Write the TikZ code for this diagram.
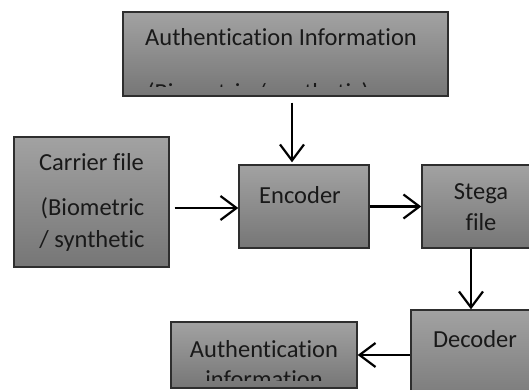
\documentclass[tikz,border=0pt]{standalone}
\usepackage{fontspec}
\setmainfont{Carlito}[Ligatures=NoCommon]
\usetikzlibrary{arrows.meta}
\definecolor{boxtop}{HTML}{A2A2A2}
\definecolor{boxbot}{HTML}{767676}
\definecolor{boxline}{HTML}{2E2E2E}
\tikzset{
  block/.style={rectangle, inner sep=0pt, top color=boxtop, bottom color=boxbot,
    draw=boxline, line width=1.4pt},
  txt/.style={font=\fontsize{24.5}{32}\selectfont, inner sep=0pt, text=black!90},
  arr/.style={line width=2.2pt, black, -{Straight Barb[length=16pt, width=24pt, line width=2.2pt]}}
}
\begin{document}
\begin{tikzpicture}[x=1pt, y=-1pt]
  \useasboundingbox (0,0) rectangle (529,390);
  \clip (0,0) rectangle (529,390);

  % blocks
  \node[block, minimum width=325pt, minimum height=84pt] (auth) at (285.5,54) {};
  \node[block, minimum width=155pt, minimum height=130pt] (carrier) at (91.5,202) {};
  \node[block, minimum width=130pt, minimum height=83pt] (enc) at (304,206.5) {};
  \node[block, minimum width=118pt, minimum height=83pt] (stega) at (481,206.5) {};
  \node[block, minimum width=128pt, minimum height=100pt] (dec) at (475,360) {};
  \node[block, minimum width=186pt, minimum height=66pt] (out) at (264,355) {};

  % block texts, each cut off at the inner text margin of its block
  \begin{scope}
    \clip (auth.north west) rectangle ([yshift=10pt]auth.south east);
    \node[txt, anchor=base west] (authA) at (145,46) {Authentication Information};
    \node[txt, anchor=base west] (authB) at (147,101) {(Biometric / synthetic)};
  \end{scope}
  \begin{scope}
    \clip (carrier.north west) rectangle ([yshift=12pt]carrier.south east);
    \node[txt, anchor=base] (carA) at (91.5,170) {Carrier file};
    \node[txt, anchor=base] (carB) at (92.5,215) {(Biometric};
    \node[txt, anchor=base] (carC) at (92,247) {/ synthetic};
  \end{scope}
  \node[txt, anchor=base] (encA) at (300,203) {Encoder};
  \node[txt, anchor=base] (stegaA) at (481,199) {Stega};
  \node[txt, anchor=base] (stegaB) at (481,230) {file};
  \node[txt, anchor=base] (decA) at (475,347) {Decoder};
  \begin{scope}
    \clip (out.north west) rectangle ([yshift=8pt]out.south east);
    \node[txt, anchor=base] (outA) at (264,357) {Authentication};
    \node[txt, anchor=base] (outB) at (264,387) {information};
  \end{scope}

  % data flow
  \draw[arr, shorten <=6pt, shorten >=2pt] ([xshift=6.5pt]auth.south) -- ([xshift=6.5pt]auth.south |- enc.north);
  \draw[arr, shorten <=5pt] ([yshift=-6pt]carrier.east) -- ([yshift=-6pt]carrier.east -| enc.west);
  \draw[arr] (enc.east) -- (stega.west);
  \draw[arr] ([xshift=-10pt]stega.south) -- ([xshift=-10pt]stega.south |- dec.north);
  \draw[arr] (dec.west |- out.east) -- (out.east);
\end{tikzpicture}
\end{document}
